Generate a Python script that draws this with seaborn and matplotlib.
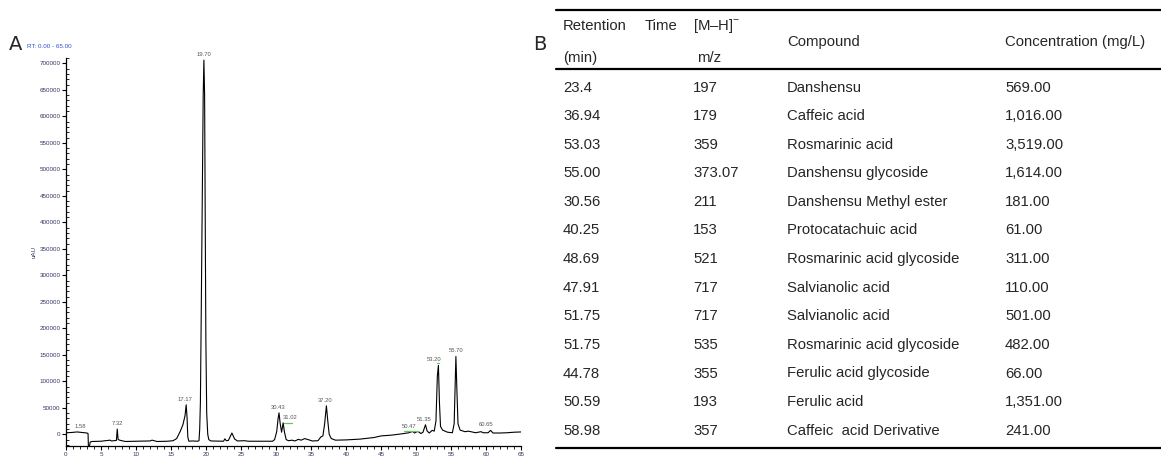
import matplotlib
matplotlib.use("Agg")
import matplotlib.pyplot as plt
from matplotlib.ticker import MultipleLocator
import seaborn as sns
import pandas as pd

# ---- Panel A: HPLC chromatogram (retention time in min, signal in uAU) ----
trace_time = [
    0.0, 0.8, 1.58, 2.3, 3.0, 3.15, 3.2, 3.35, 3.45, 3.7, 5.0, 6.3, 6.5, 7.2, 7.32,
    7.45, 7.8, 8.5, 10.0, 12.0, 12.3, 13.0, 14.5, 15.3, 15.8, 16.3, 16.7, 17.0,
    17.17, 17.3, 17.4, 17.55, 18.0, 18.8, 19.0, 19.1, 19.2, 19.3, 19.45, 19.6,
    19.70, 19.8, 19.9, 19.98, 20.1, 20.25, 20.4, 20.7, 22.5, 22.7, 22.9, 23.2,
    23.7, 24.1, 24.5, 25.5, 26.0, 29.5, 29.8, 30.1, 30.3, 30.43, 30.6, 30.8,
    31.02, 31.2, 31.45, 31.8, 32.3, 32.7, 33.2, 33.6, 34.1, 34.6, 35.2, 36.0,
    36.4, 36.7, 36.95, 37.20, 37.4, 37.6, 37.9, 38.5, 40.0, 42.0, 44.0, 45.0,
    46.5, 48.0, 49.0, 49.5, 49.8, 50.2, 50.47, 50.7, 51.0, 51.35, 51.6, 51.9,
    52.3, 52.6, 52.85, 53.05, 53.20, 53.35, 53.5, 53.8, 54.5, 55.2, 55.45,
    55.70, 55.85, 56.0, 56.3, 57.0, 57.5, 58.5, 59.3, 59.6, 60.3, 60.65, 61.0,
    62.0, 63.0, 64.0, 65.0,
]
trace_signal = [
    3000, 3500, 4500, 3500, 2500, 1500, -23000, -23000, -14500, -13500, -13000,
    -11000, -12500, -11500, 10000, -10000, -11500, -13500, -13000, -12500,
    -11000, -13500, -13000, -12000, -8000, 5000, 18000, 35000, 55700, 30000,
    -5000, -13000, -12500, -13000, -12000, 10000, 60000, 200000, 420000, 640000,
    706000, 640000, 380000, 180000, 40000, 0, -10000, -12500, -13000, -8500,
    -12000, -11500, 2500, -9000, -12500, -12000, -13000, -13000, -10000, 5000,
    30000, 40500, 20000, 4000, 21700, 5000, -10000, -12000, -11000, -12500,
    -9500, -11000, -8000, -10000, -12500, -12000, -5000, -3000, 20000, 53800,
    25000, 0, -8000, -11000, -10500, -9000, -6000, -3000, -1500, 1000, 3000,
    5500, 2500, 5500, 4000, 1500, 4000, 18000, 6000, 2500, 7500, 6000, 25000,
    110000, 130000, 60000, 15000, 8000, 4000, 3000, 20000, 146800, 80000,
    20000, 8000, 5000, 6000, 3000, 5000, 3000, 3000, 7500, 2500, 2500, 3000,
    4000, 4500,
]
peak_rt = [1.58, 7.32, 17.17, 19.70, 30.43, 31.02, 37.20, 50.47, 51.35, 53.20, 55.70, 60.65]
# sideways offsets (points) for the peak labels
label_dx = [2, 0, -1, 0, -1, 5, -1, -7, -1, -3, 0, -3]

# integration baseline markers (start, end, level)
mark_start = [31.1, 48.3, 53.0]
mark_end = [32.3, 50.3, 53.3]
mark_level = [22300, 7200, 134000]

# ---- Panel B: identified compounds ----
ret_time = ["23.4", "36.94", "53.03", "55.00", "30.56", "40.25", "48.69",
            "47.91", "51.75", "51.75", "44.78", "50.59", "58.98"]
mz = ["197", "179", "359", "373.07", "211", "153", "521", "717", "717",
      "535", "355", "193", "357"]
compound = ["Danshensu", "Caffeic acid", "Rosmarinic acid", "Danshensu glycoside",
            "Danshensu Methyl ester", "Protocatachuic acid", "Rosmarinic acid glycoside",
            "Salvianolic acid", "Salvianolic acid", "Rosmarinic acid glycoside",
            "Ferulic acid glycoside", "Ferulic acid", "Caffeic  acid Derivative"]
concentration = ["569.00", "1,016.00", "3,519.00", "1,614.00", "181.00", "61.00",
                 "311.00", "110.00", "501.00", "482.00", "66.00", "1,351.00", "241.00"]

sns.set_theme(style="ticks")
plt.rcParams["font.family"] = ["Liberation Sans", "DejaVu Sans"]
plt.rcParams["mathtext.fontset"] = "custom"
plt.rcParams["mathtext.rm"] = "Liberation Sans"

W, H = 1161, 459
fig = plt.figure(figsize=(W / 100, H / 100), dpi=100)
fig.patch.set_facecolor("white")

tick_color = "#2f3560"

# chromatogram axes
ax = fig.add_axes([66 / W, (H - 446) / H, 455 / W, (446 - 58) / H])
df = pd.DataFrame({"time": trace_time, "signal": trace_signal})
sns.lineplot(data=df, x="time", y="signal", ax=ax, color="black", lw=0.8,
             estimator=None, sort=True)
ax.set_xlim(0, 65)
ax.set_ylim(-22000, 710000)
ax.xaxis.set_minor_locator(MultipleLocator(1))
ax.yaxis.set_minor_locator(MultipleLocator(10000))
ax.set_xticks(range(0, 66, 5))
ax.set_yticks(range(0, 700001, 50000))
ax.tick_params(axis="both", which="major", labelsize=4.5, labelcolor=tick_color,
               length=3, width=0.8, color="black", pad=1)
ax.tick_params(axis="both", which="minor", length=2, width=0.6, color="black")
ax.tick_params(axis="y", which="minor", direction="in")
ax.set_xlabel("")
ax.set_ylabel("uAU", fontsize=4.5, color=tick_color, labelpad=2)
sns.despine(ax=ax)
for s in ("left", "bottom"):
    ax.spines[s].set_linewidth(0.9)
    ax.spines[s].set_color("black")

# peak labels, placed above the trace at each retention time
sig_at = dict(zip(trace_time, trace_signal))
for rt, dx in zip(peak_rt, label_dx):
    ax.annotate(f"{rt:.2f}", xy=(rt, sig_at[rt]), xytext=(dx, 2.2),
                textcoords="offset points", ha="center", va="bottom",
                fontsize=4.2, color="#555555", annotation_clip=False)

for x0, x1, lv in zip(mark_start, mark_end, mark_level):
    ax.plot([x0, x1], [lv, lv], color="#5cc85c", lw=0.9)

fig.text(9 / W, 1 - 45 / H, "A", fontsize=14, va="center", ha="left",
         family="DejaVu Sans")
fig.text(27 / W, 1 - 46 / H, "RT: 0.00 - 65.00", fontsize=4.5, color="#2b50d0",
         va="center", ha="left")

# ---- table panel ----
tax = fig.add_axes([0, 0, 1, 1])
tax.set_xlim(0, W)
tax.set_ylim(H, 0)
tax.axis("off")
tax.patch.set_alpha(0)

tax.text(533, 45, "B", fontsize=14, va="center", ha="left", family="DejaVu Sans")

fs = 10.7
col_x = [563, 693, 787, 1005]
x_line0, x_line1 = 556, 1161
top_y, head_y = 10, 69
row0, step = 87.5, 28.6
n = len(ret_time)
bottom_y = row0 + (n - 1) * step + 17

for yy in (top_y, head_y, bottom_y):
    tax.plot([x_line0, x_line1], [yy, yy], color="black", lw=1.6)

tax.text(563, 26, "Retention", fontsize=fs, va="center")
tax.text(645, 26, "Time", fontsize=fs, va="center")
tax.text(693, 26, "[M–H]$^{-}$", fontsize=fs, va="center")
tax.text(563, 58, "(min)", fontsize=fs, va="center")
tax.text(697, 58, "m/z", fontsize=fs, va="center")
tax.text(787, 42, "Compound", fontsize=fs, va="center")
tax.text(1005, 42, "Concentration (mg/L)", fontsize=fs, va="center")

for i, (a, b, c, d) in enumerate(zip(ret_time, mz, compound, concentration)):
    yy = row0 + i * step
    for x, t in zip(col_x, (a, b, c, d)):
        tax.text(x, yy, t, fontsize=fs, va="center", ha="left")

fig.savefig("out.png", dpi=100)
